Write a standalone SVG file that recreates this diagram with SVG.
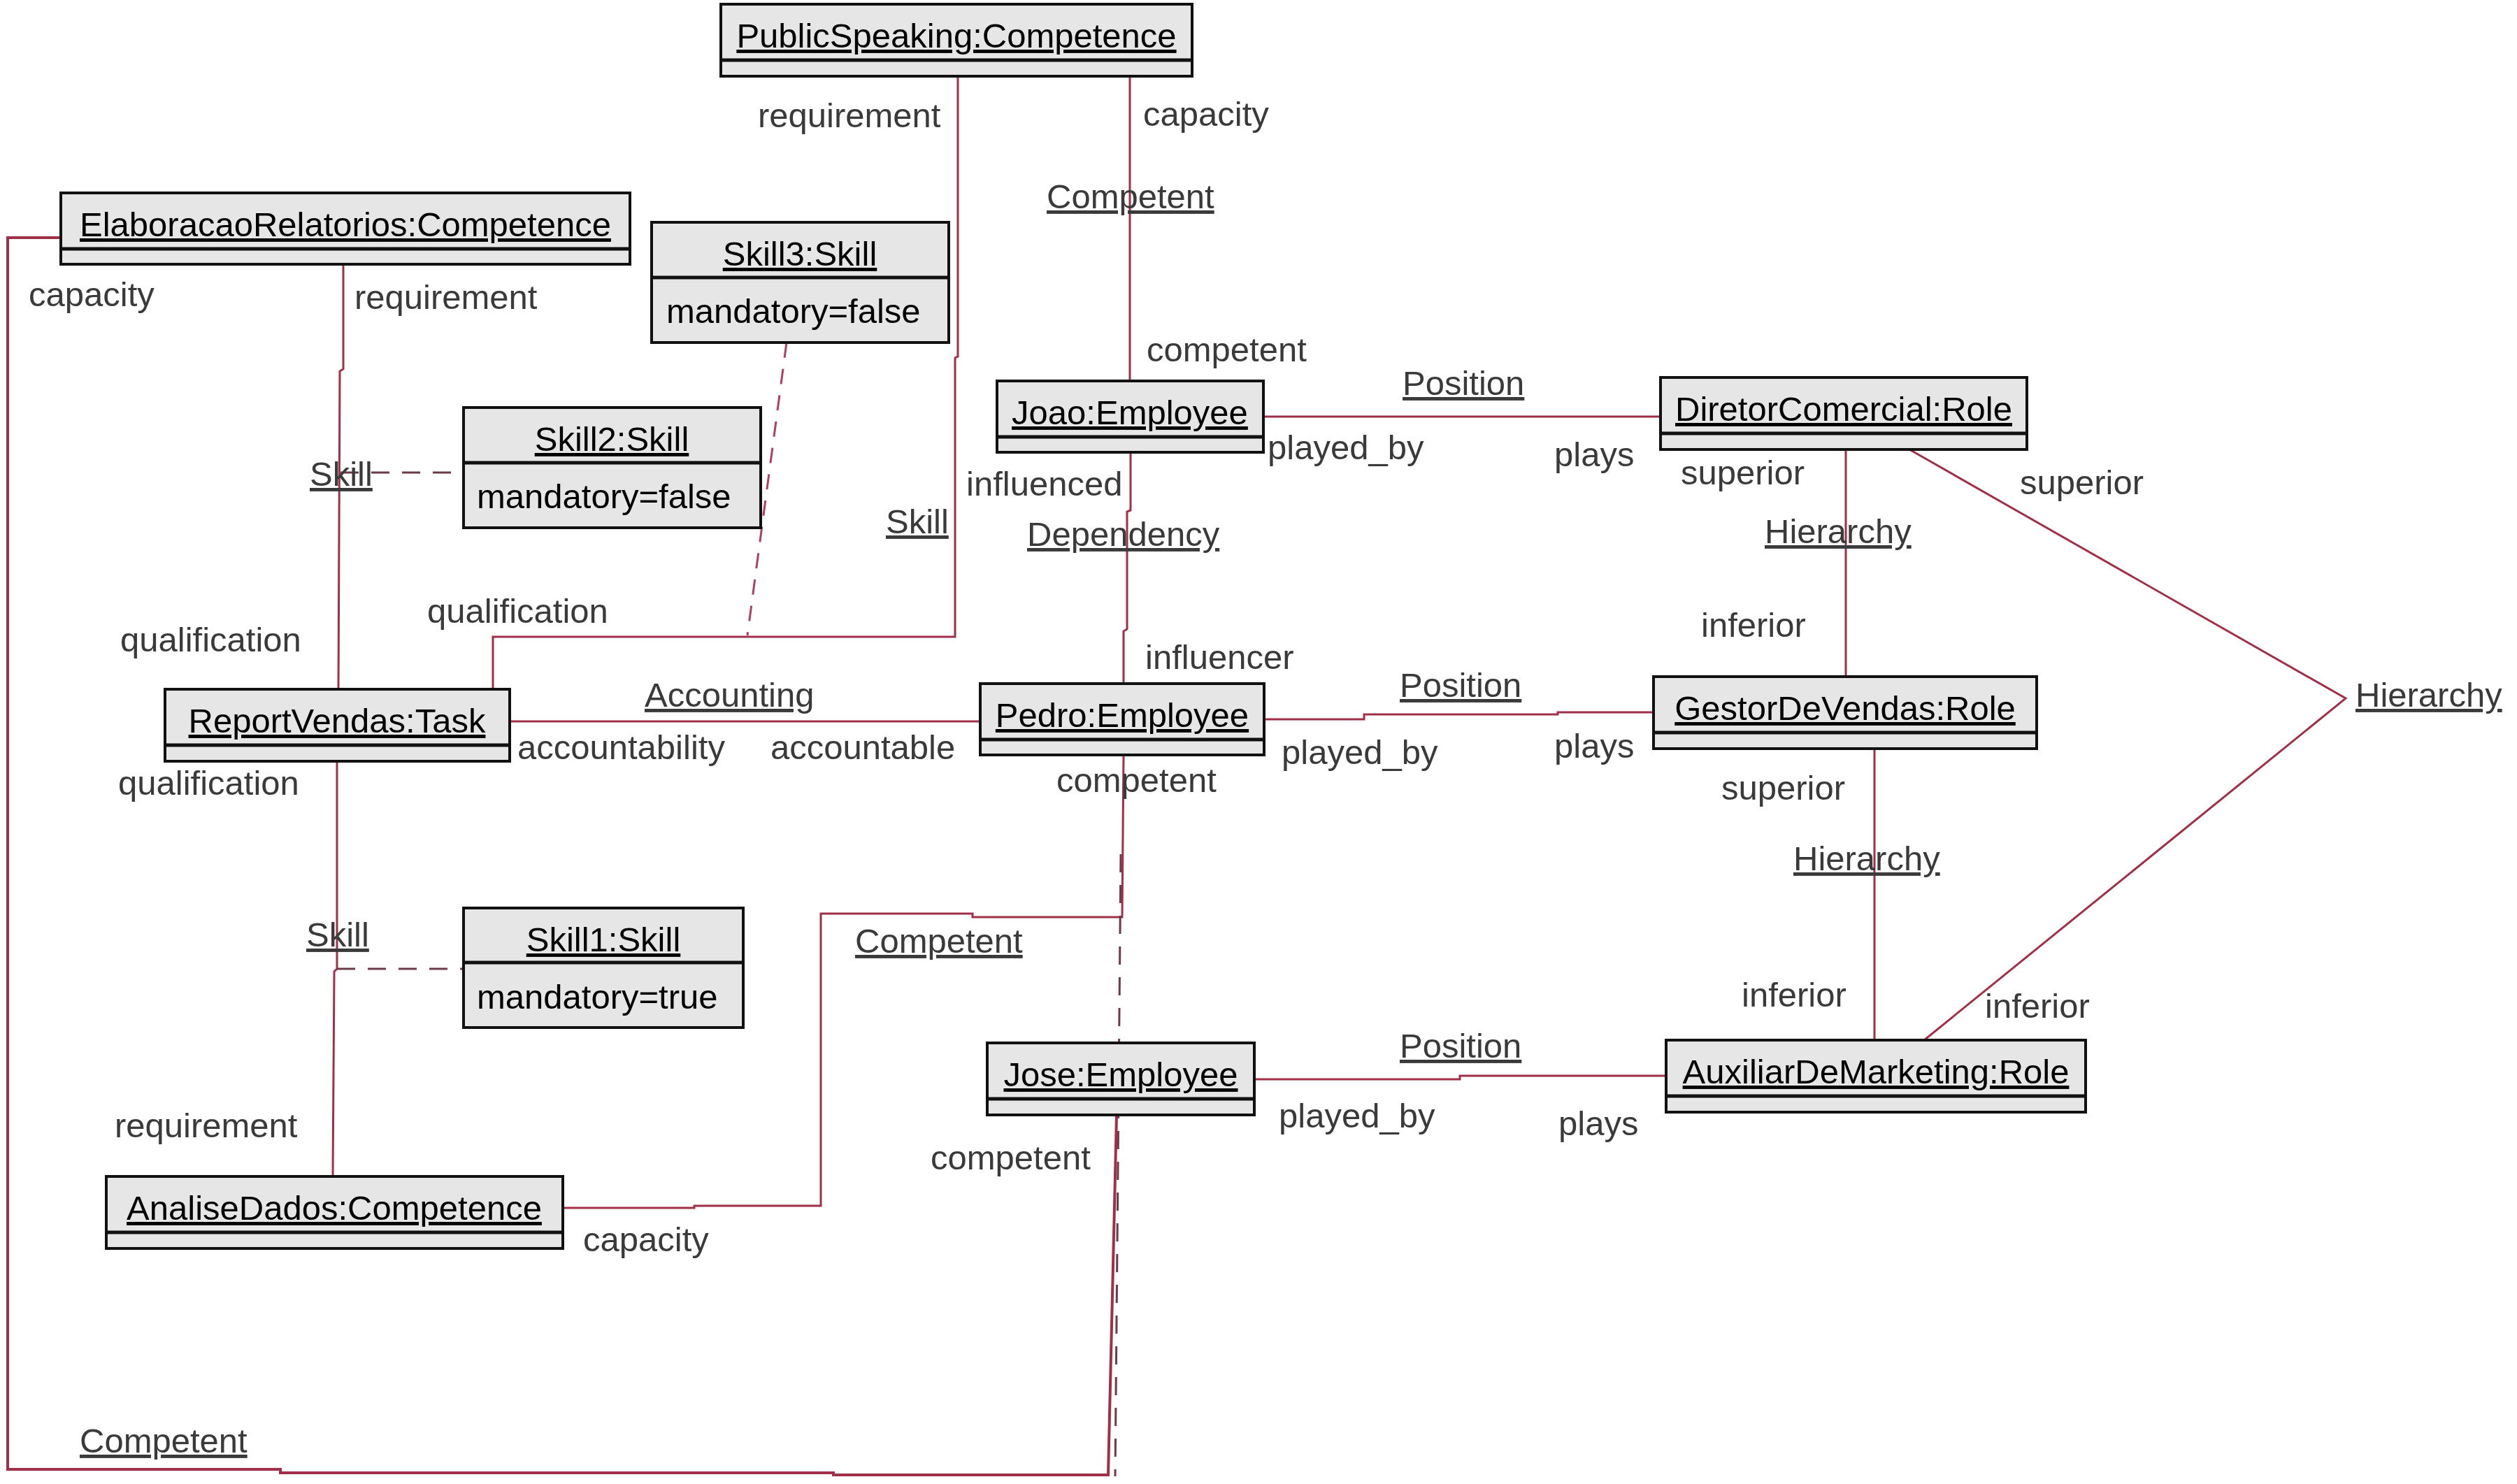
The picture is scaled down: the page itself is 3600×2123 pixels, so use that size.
<svg xmlns="http://www.w3.org/2000/svg" width="3600" height="2123" viewBox="0 0 3600 2123">
<style>
.box{fill:#e6e6e6;stroke:#111;stroke-width:4}
.dv{stroke:#111;stroke-width:5}
.t{font-family:"Liberation Sans",Arial,sans-serif;font-size:49px;fill:#000;text-anchor:middle;text-decoration:underline}
.at{font-family:"Liberation Sans",Arial,sans-serif;font-size:49px;fill:#000}
.l{font-family:"Liberation Sans",Arial,sans-serif;font-size:49px;fill:#3a3a3a}
.u{text-decoration:underline}
.c{fill:none;stroke:#a0304a;stroke-width:3}
.d{fill:none;stroke:#6b3b47;stroke-width:3;stroke-dasharray:26 18}
.dr{fill:none;stroke:#b04060;stroke-width:3;stroke-dasharray:22 16}
</style>
<rect width="3600" height="2123" fill="#fff"/>
<g id="connectors">
<polyline class="c" points="1370,109 1370,510 1366,512 1366,911 705,911 705,986"/>
<polyline class="c" points="1616,109 1616,545"/>
<polyline class="c" points="491,378 491,528 486,531 484,986"/>
<line class="d" x1="487" y1="676" x2="663" y2="676"/>
<line class="dr" x1="1125" y1="490" x2="1069" y2="909"/>
<polyline class="c" points="1617,647 1617,730 1612,732 1612,900 1607,903 1607,978"/>
<polyline class="c" points="1807,596 2375,596"/>
<polyline class="c" points="1808,1029 1951,1029 1951,1022 2228,1022 2228,1019 2365,1019"/>
<polyline class="c" points="1794,1544 2088,1544 2088,1539 2383,1539"/>
<polyline class="c" points="2640,643 2640,968"/>
<polyline class="c" points="2681,1071 2681,1488"/>
<polyline class="c" points="2731,643 3355,999 2752,1488"/>
<polyline class="c" points="729,1032 1402,1032"/>
<polyline class="c" points="482,1089 482,1386 478,1390 476,1683"/>
<line class="d" x1="482" y1="1386" x2="663" y2="1386"/>
<polyline class="c" points="805,1728 993,1728 993,1725 1174,1725 1174,1307 1391,1307 1391,1312 1605,1312 1607,1080"/>
<line class="d" x1="1603" y1="1222" x2="1595" y2="2112"/>
<polyline class="c" style="stroke-width:4" points="86,340 11,340 11,2102 401,2102 401,2107 1192,2107 1192,2110 1585,2110 1597,1596"/>
</g>
<g id="PublicSpeaking">
<rect class="box" x="1031" y="6" width="674" height="103"/>
<line class="dv" x1="1031" y1="86" x2="1705" y2="86"/>
<text class="t" x="1368" y="68">PublicSpeaking:Competence</text>
</g>
<g id="ElaboracaoRelatorios">
<rect class="box" x="87" y="276" width="814" height="102"/>
<line class="dv" x1="87" y1="356" x2="901" y2="356"/>
<text class="t" x="494" y="338">ElaboracaoRelatorios:Competence</text>
</g>
<g id="Skill3">
<rect class="box" x="932" y="318" width="425" height="172"/>
<line class="dv" x1="932" y1="397" x2="1357" y2="397"/>
<text class="t" x="1144" y="380">Skill3:Skill</text>
<text class="at" x="953" y="462">mandatory=false</text>
</g>
<g id="Skill2">
<rect class="box" x="663" y="583" width="425" height="172"/>
<line class="dv" x1="663" y1="662" x2="1088" y2="662"/>
<text class="t" x="875" y="645">Skill2:Skill</text>
<text class="at" x="682" y="727">mandatory=false</text>
</g>
<g id="Joao">
<rect class="box" x="1426" y="545" width="381" height="102"/>
<line class="dv" x1="1426" y1="625" x2="1807" y2="625"/>
<text class="t" x="1616" y="607">Joao:Employee</text>
</g>
<g id="DiretorComercial">
<rect class="box" x="2375" y="540" width="524" height="103"/>
<line class="dv" x1="2375" y1="620" x2="2899" y2="620"/>
<text class="t" x="2637" y="602">DiretorComercial:Role</text>
</g>
<g id="ReportVendas">
<rect class="box" x="236" y="986" width="493" height="103"/>
<line class="dv" x1="236" y1="1066" x2="729" y2="1066"/>
<text class="t" x="482" y="1048">ReportVendas:Task</text>
</g>
<g id="Pedro">
<rect class="box" x="1402" y="978" width="406" height="102"/>
<line class="dv" x1="1402" y1="1058" x2="1808" y2="1058"/>
<text class="t" x="1605" y="1040">Pedro:Employee</text>
</g>
<g id="GestorDeVendas">
<rect class="box" x="2365" y="968" width="548" height="103"/>
<line class="dv" x1="2365" y1="1048" x2="2913" y2="1048"/>
<text class="t" x="2639" y="1030">GestorDeVendas:Role</text>
</g>
<g id="Skill1">
<rect class="box" x="663" y="1299" width="400" height="171"/>
<line class="dv" x1="663" y1="1377" x2="1063" y2="1377"/>
<text class="t" x="863" y="1361">Skill1:Skill</text>
<text class="at" x="682" y="1443">mandatory=true</text>
</g>
<g id="Jose">
<rect class="box" x="1412" y="1492" width="382" height="103"/>
<line class="dv" x1="1412" y1="1572" x2="1794" y2="1572"/>
<text class="t" x="1603" y="1554">Jose:Employee</text>
</g>
<g id="AuxiliarDeMarketing">
<rect class="box" x="2383" y="1488" width="600" height="103"/>
<line class="dv" x1="2383" y1="1568" x2="2983" y2="1568"/>
<text class="t" x="2683" y="1550">AuxiliarDeMarketing:Role</text>
</g>
<g id="AnaliseDados">
<rect class="box" x="152" y="1683" width="653" height="103"/>
<line class="dv" x1="152" y1="1763" x2="805" y2="1763"/>
<text class="t" x="478" y="1745">AnaliseDados:Competence</text>
</g>
<g id="labels">
<text class="l" x="1084" y="182">requirement</text>
<text class="l" x="1635" y="180">capacity</text>
<text class="l u" x="1497" y="298">Competent</text>
<text class="l" x="1640" y="517">competent</text>
<text class="l" x="41" y="438">capacity</text>
<text class="l" x="507" y="442">requirement</text>
<text class="l u" x="443" y="695">Skill</text>
<text class="l u" x="1267" y="763">Skill</text>
<text class="l" x="611" y="891">qualification</text>
<text class="l" x="172" y="932">qualification</text>
<text class="l" x="1382" y="709">influenced</text>
<text class="l u" x="1469" y="781">Dependency</text>
<text class="l" x="1638" y="957">influencer</text>
<text class="l u" x="2006" y="565">Position</text>
<text class="l" x="1813" y="657">played_by</text>
<text class="l" x="2223" y="667">plays</text>
<text class="l" x="2404" y="693">superior</text>
<text class="l u" x="2524" y="777">Hierarchy</text>
<text class="l" x="2433" y="911">inferior</text>
<text class="l" x="2889" y="707">superior</text>
<text class="l u" x="3369" y="1011">Hierarchy</text>
<text class="l u" x="922" y="1011">Accounting</text>
<text class="l" x="740" y="1086">accountability</text>
<text class="l" x="1102" y="1086">accountable</text>
<text class="l u" x="2002" y="997">Position</text>
<text class="l" x="1833" y="1093">played_by</text>
<text class="l" x="2223" y="1084">plays</text>
<text class="l" x="1511" y="1133">competent</text>
<text class="l" x="169" y="1137">qualification</text>
<text class="l" x="2462" y="1144">superior</text>
<text class="l u" x="2565" y="1245">Hierarchy</text>
<text class="l u" x="438" y="1354">Skill</text>
<text class="l u" x="1223" y="1363">Competent</text>
<text class="l" x="2491" y="1440">inferior</text>
<text class="l" x="2839" y="1456">inferior</text>
<text class="l u" x="2002" y="1513">Position</text>
<text class="l" x="1829" y="1613">played_by</text>
<text class="l" x="2229" y="1624">plays</text>
<text class="l" x="164" y="1627">requirement</text>
<text class="l" x="1331" y="1673">competent</text>
<text class="l" x="834" y="1790">capacity</text>
<text class="l u" x="114" y="2078">Competent</text>
</g>
</svg>
